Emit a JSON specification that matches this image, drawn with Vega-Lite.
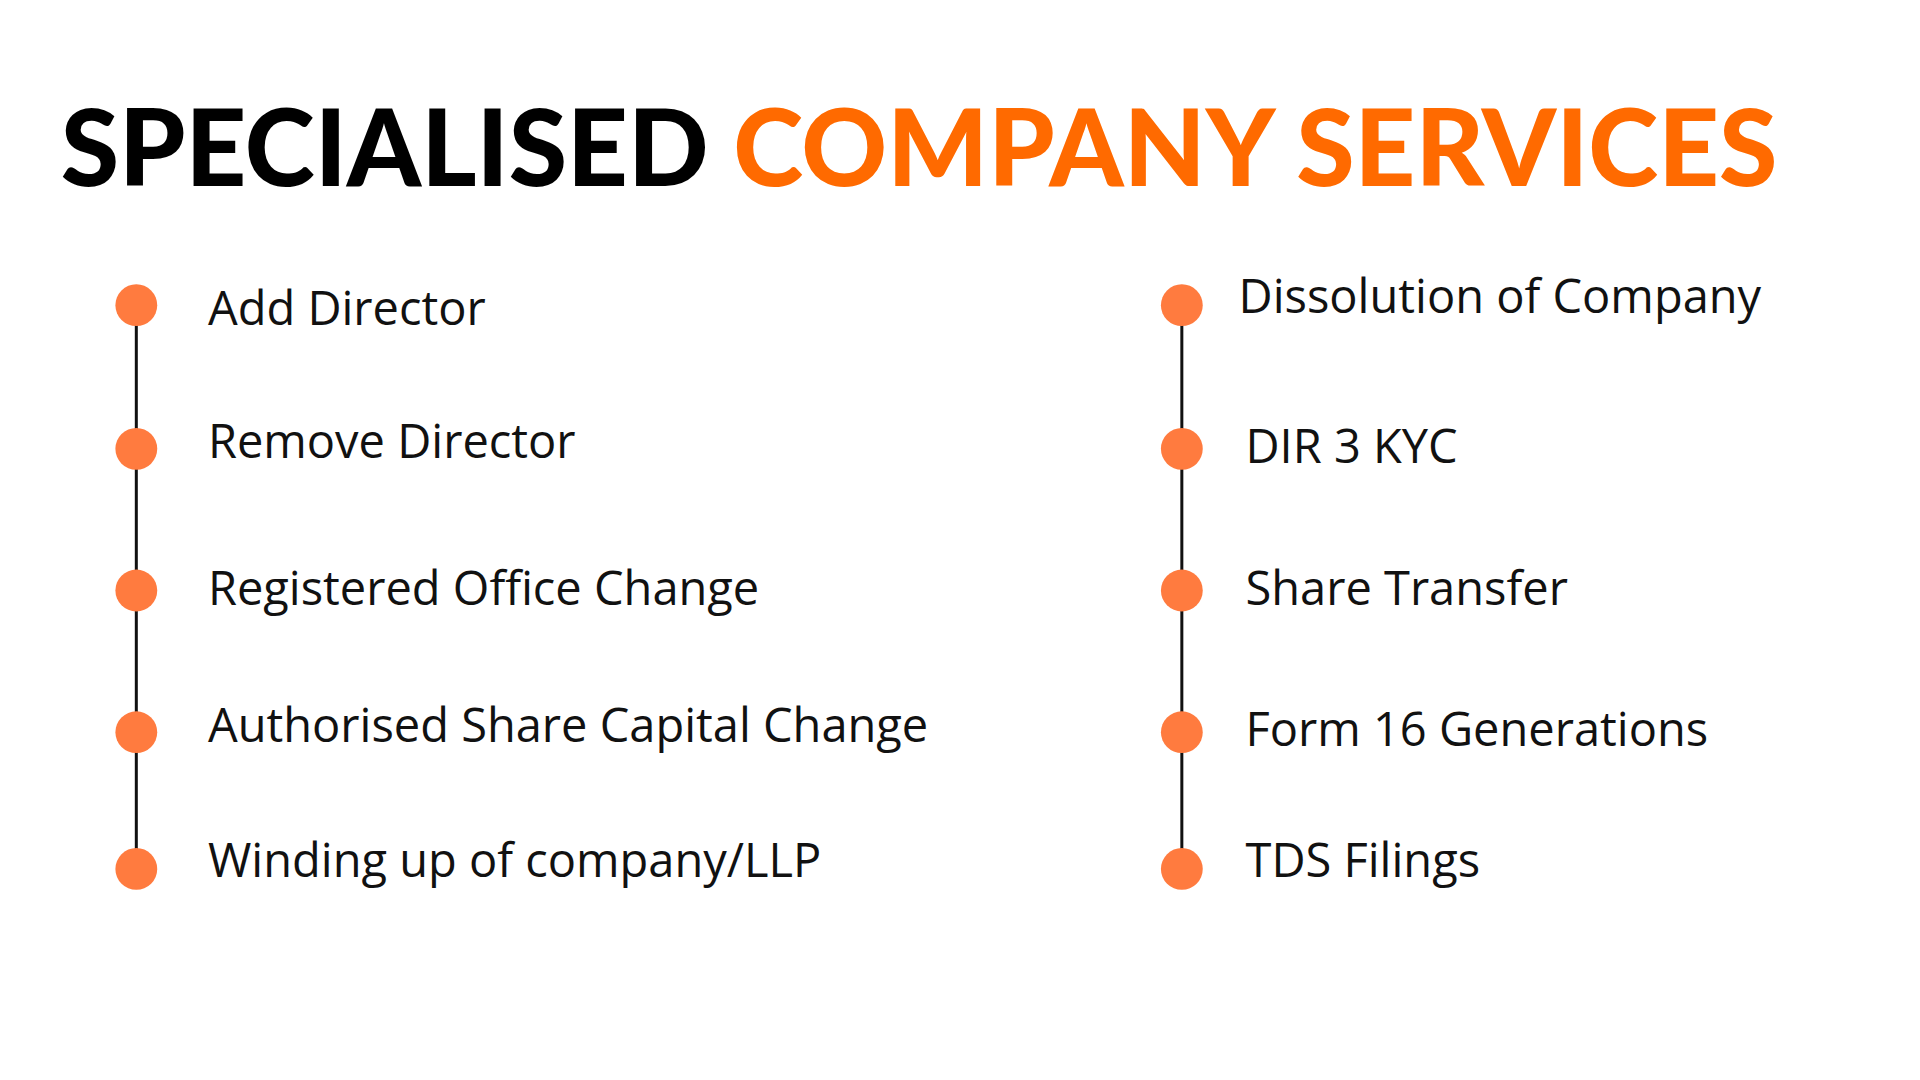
{
  "$schema": "https://vega.github.io/schema/vega-lite/v6.json",
  "autosize": {"type": "fit", "contains": "padding"},
  "width": 1920,
  "height": 1080,
  "background": "white",
  "config": {"view": {"stroke": null}},
  "datasets": {
    "items": [
      {"col": 1, "x": 132, "y": 303, "tx": 204, "ty": 309, "label": "Add Director"},
      {"col": 1, "x": 132, "y": 448, "tx": 204, "ty": 443, "label": "Remove Director"},
      {"col": 1, "x": 132, "y": 591, "tx": 204, "ty": 591, "label": "Registered Office Change"},
      {"col": 1, "x": 132, "y": 734, "tx": 204, "ty": 730, "label": "Authorised Share Capital Change"},
      {"col": 1, "x": 132, "y": 872, "tx": 204, "ty": 866, "label": "Winding up of company/LLP"},
      {"col": 2, "x": 1183, "y": 303, "tx": 1240, "ty": 297, "label": "Dissolution of Company"},
      {"col": 2, "x": 1183, "y": 448, "tx": 1247, "ty": 448, "label": "DIR 3 KYC"},
      {"col": 2, "x": 1183, "y": 591, "tx": 1247, "ty": 591, "label": "Share Transfer"},
      {"col": 2, "x": 1183, "y": 734, "tx": 1247, "ty": 734, "label": "Form 16 Generations"},
      {"col": 2, "x": 1183, "y": 872, "tx": 1247, "ty": 866, "label": "TDS Filings"}
    ],
    "lines": [
      {"x": 132, "y": 303, "y2": 872},
      {"x": 1183, "y": 303, "y2": 872}
    ],
    "title": [
      {"x": 56, "y": 150, "text": "SPECIALISED", "part": "a"},
      {"x": 732, "y": 150, "text": "COMPANY SERVICES", "part": "b"}
    ]
  },
  "layer": [
    {
      "data": {"name": "lines"},
      "mark": {"type": "rule", "strokeWidth": 3, "color": "#111111"},
      "encoding": {
        "x": {"field": "x", "type": "quantitative", "scale": {"domain": [0, 1920]}, "axis": null},
        "y": {"field": "y", "type": "quantitative", "scale": {"domain": [1080, 0]}, "axis": null},
        "y2": {"field": "y2"}
      }
    },
    {
      "data": {"name": "items"},
      "mark": {"type": "circle", "size": 1750, "opacity": 1, "color": "#FF7B3F"},
      "encoding": {
        "x": {"field": "x", "type": "quantitative", "scale": {"domain": [0, 1920]}, "axis": null},
        "y": {"field": "y", "type": "quantitative", "scale": {"domain": [1080, 0]}, "axis": null}
      }
    },
    {
      "data": {"name": "items"},
      "mark": {"type": "text", "align": "left", "baseline": "middle", "font": "Open Sans", "fontSize": 47, "color": "#111111"},
      "encoding": {
        "x": {"field": "tx", "type": "quantitative", "scale": {"domain": [0, 1920]}, "axis": null},
        "y": {"field": "ty", "type": "quantitative", "scale": {"domain": [1080, 0]}, "axis": null},
        "text": {"field": "label"}
      }
    },
    {
      "data": {"name": "title"},
      "mark": {"type": "text", "align": "left", "baseline": "middle", "font": "Lato", "fontWeight": 900, "fontSize": 106},
      "encoding": {
        "x": {"field": "x", "type": "quantitative", "scale": {"domain": [0, 1920]}, "axis": null},
        "y": {"field": "y", "type": "quantitative", "scale": {"domain": [1080, 0]}, "axis": null},
        "text": {"field": "text"},
        "color": {"field": "part", "type": "nominal", "scale": {"domain": ["a", "b"], "range": ["#000000", "#FF6A00"]}, "legend": null}
      }
    }
  ]
}
